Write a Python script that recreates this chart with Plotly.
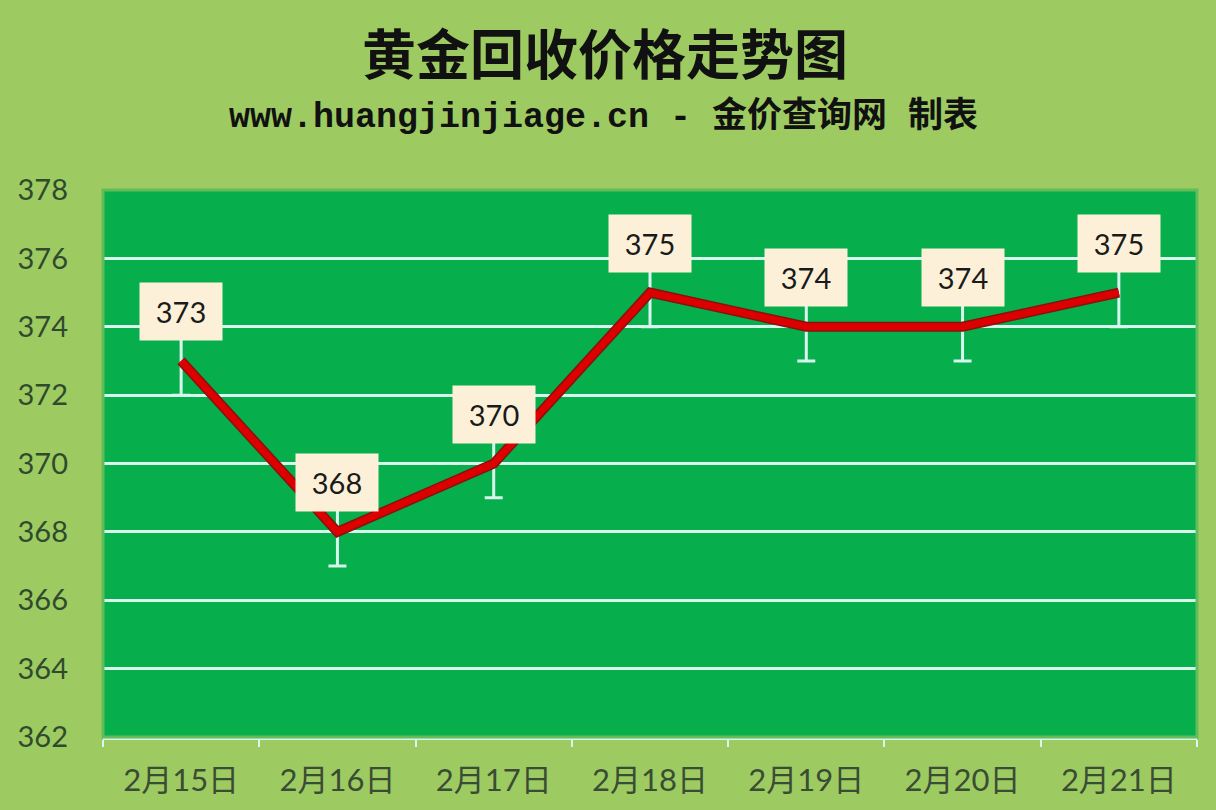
import plotly.graph_objects as go

dates = ["2月15日", "2月16日", "2月17日", "2月18日", "2月19日", "2月20日", "2月21日"]
prices = [373, 368, 370, 375, 374, 374, 375]
err_up = [1, 1, 1, 1, 1, 1, 1]
err_down = [1, 1, 1, 1, 1, 1, 1]

title_text = "黄金回收价格走势图"
subtitle_text = "www.huangjinjiage.cn - 金价查询网 制表"

paper_color = "#9dcb62"
plot_color = "#06ae4c"
grid_color = "#d6f6ee"

fig = go.Figure()

# error bars (white whiskers)
fig.add_trace(
    go.Scatter(
        x=dates,
        y=prices,
        mode="markers",
        marker=dict(size=1, color="rgba(0,0,0,0)"),
        error_y=dict(
            type="data",
            symmetric=False,
            array=err_up,
            arrayminus=err_down,
            color=grid_color,
            thickness=3,
            width=9,
        ),
        showlegend=False,
        hoverinfo="skip",
    )
)

# red line with dark edge
fig.add_trace(
    go.Scatter(
        x=dates,
        y=prices,
        mode="lines",
        line=dict(color="#8a1010", width=10),
        showlegend=False,
    )
)
fig.add_trace(
    go.Scatter(
        x=dates,
        y=prices,
        mode="lines",
        line=dict(color="#dd0000", width=7),
        showlegend=False,
    )
)

# data labels
for d, p in zip(dates, prices):
    fig.add_annotation(
        x=d,
        y=p,
        text=str(p),
        showarrow=False,
        yanchor="bottom",
        yshift=20,
        width=80,
        height=55,
        bgcolor="#fcf1d8",
        font=dict(family="Lato, Open Sans, sans-serif", size=29, color="#1a1a1a"),
    )

# titles
fig.add_annotation(
    text="<b>" + title_text + "</b>",
    xref="paper",
    yref="paper",
    x=(605 - 103) / 1094,
    xanchor="center",
    y=1 + (190 - 52) / 547,
    yanchor="middle",
    showarrow=False,
    font=dict(family="Noto Sans CJK SC", size=54, color="#111111"),
)
fig.add_annotation(
    text="<b>" + subtitle_text + "</b>",
    xref="paper",
    yref="paper",
    x=(603 - 103) / 1094,
    xanchor="center",
    y=1 + (190 - 117) / 547,
    yanchor="middle",
    showarrow=False,
    font=dict(family="Liberation Mono, Noto Sans CJK SC", size=35, color="#111111"),
)

fig.update_layout(
    width=1216,
    height=810,
    paper_bgcolor=paper_color,
    plot_bgcolor=plot_color,
    margin=dict(l=103, r=19, t=190, b=73),
    showlegend=False,
    xaxis=dict(
        type="category",
        range=[-0.5, 6.5],
        showgrid=False,
        showline=True,
        linecolor=grid_color,
        linewidth=3,
        ticks="outside",
        tickson="boundaries",
        tickcolor=grid_color,
        ticklen=7,
        tickwidth=2,
        ticklabelstandoff=14,
        tickfont=dict(family="Lato, Noto Sans CJK SC, sans-serif", size=31, color="#3a4c34"),
        zeroline=False,
    ),
    yaxis=dict(
        range=[362, 378],
        dtick=2,
        showgrid=True,
        gridcolor=grid_color,
        gridwidth=3,
        zeroline=False,
        showline=False,
        ticks="",
        ticklabelstandoff=34,
        tickfont=dict(family="Lato, Open Sans, sans-serif", size=29, color="#2f4a2c"),
    ),
    shapes=[
        dict(
            type="rect",
            xref="paper",
            yref="paper",
            x0=0,
            x1=1,
            y0=0,
            y1=1,
            line=dict(color="#62bd58", width=3),
            layer="above",
        )
    ],
)

fig.write_html(
    "out.html",
    config={"displayModeBar": False},
    post_script="document.body.style.margin='0';",
)
